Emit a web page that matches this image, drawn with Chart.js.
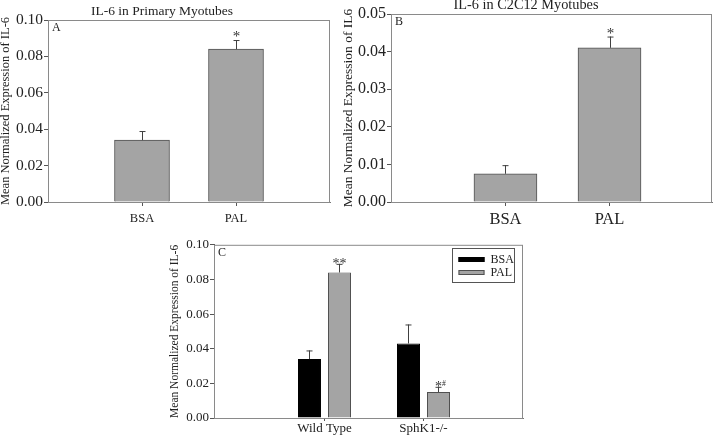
<!DOCTYPE html>
<html>
<head>
<meta charset="utf-8">
<script src="https://cdn.jsdelivr.net/npm/chart.js@4.4.0/dist/chart.umd.min.js"></script>
<style>
html, body { margin: 0; padding: 0; background: #fff; overflow: hidden; }
#wrap { position: relative; width: 713px; height: 439px; overflow: hidden; }
.pane { position: absolute; }
</style>
</head>
<body>
<div id="wrap">
  <div class="pane" style="left:-6px;top:0;width:340px;height:228px"><canvas id="chartA"></canvas></div>
  <div class="pane" style="left:340px;top:0;width:410px;height:228px"><canvas id="chartB"></canvas></div>
  <div class="pane" style="left:150px;top:236px;width:390px;height:203px"><canvas id="chartC"></canvas></div>
</div>
<script>
// panel A - primary myotubes
const categoriesA = ['BSA', 'PAL'];
const valuesA = [0.034, 0.084];
const errTopA = [0.039, 0.089];
const marksA = ['', '*'];
const yTicksA = [0.00, 0.02, 0.04, 0.06, 0.08, 0.10];

// panel B - C2C12 myotubes
const categoriesB = ['BSA', 'PAL'];
const valuesB = [0.0075, 0.041];
const errTopB = [0.0098, 0.044];
const marksB = ['', '*'];
const yTicksB = [0.00, 0.01, 0.02, 0.03, 0.04, 0.05];

// panel C - wild type vs SphK1-/-
const categoriesC = ['Wild Type', 'SphK1-/-'];
const bsaC = [0.034, 0.043];
const bsaErrTopC = [0.039, 0.054];
const palC = [0.084, 0.015];
const palErrTopC = [0.089, 0.018];
const palMarksC = ['**', '*#'];
const yTicksC = [0.00, 0.02, 0.04, 0.06, 0.08, 0.10];

const SERIF = "'Liberation Serif', 'DejaVu Serif', serif";
const GREY = '#a4a4a4';
const EDGE = '#505050';

// error bars, significance marks, frame, panel letter, boxed legend
const decorations = {
    id: 'decorations',
    afterDatasetsDraw(chart, args, opts) {
        const ctx = chart.ctx;
        const y = chart.scales.y;
        const area = chart.chartArea;
        ctx.save();
        // frame around plot
        ctx.strokeStyle = '#8a8a8a';
        ctx.lineWidth = 1;
        ctx.strokeRect(area.left + 0.5, area.top + 0.5, area.right - area.left - 1, area.bottom - area.top);

        chart.data.datasets.forEach((ds, di) => {
            const meta = chart.getDatasetMeta(di);
            meta.data.forEach((bar, i) => {
                const top = y.getPixelForValue(ds.errTop[i]);
                const x = Math.round(bar.x) + 0.5;
                ctx.strokeStyle = '#404040';
                ctx.lineWidth = 1;
                ctx.beginPath();
                ctx.moveTo(x, bar.y);
                ctx.lineTo(x, top);
                ctx.moveTo(x - 3, top + 0.5);
                ctx.lineTo(x + 3, top + 0.5);
                ctx.stroke();
                const mark = ds.marks ? ds.marks[i] : '';
                if (mark) {
                    const size = opts.markSize;
                    // asterisk glyph centre sits about 0.48em above the baseline
                    const base = top - opts.markGap + size * 0.48;
                    const main = mark.replace('#', '');
                    ctx.fillStyle = '#333';
                    ctx.textBaseline = 'alphabetic';
                    ctx.textAlign = 'center';
                    ctx.font = size + 'px ' + SERIF;
                    ctx.fillText(main, x, base);
                    if (mark.includes('#')) {
                        const w = ctx.measureText(main).width;
                        ctx.textAlign = 'left';
                        ctx.font = (size * 0.55) + 'px ' + SERIF;
                        ctx.fillText('#', x + w / 2, base - size * 0.3);
                    }
                }
            });
        });

        // panel letter
        ctx.fillStyle = '#222';
        ctx.font = opts.letterSize + 'px ' + SERIF;
        ctx.textAlign = 'left';
        ctx.textBaseline = 'top';
        ctx.fillText(opts.letter, area.left + 4, area.top + 2);

        // boxed legend
        if (opts.legend) {
            const bw = 62, bh = 34;
            const bx = Math.round(area.right - 9 - bw) + 0.5;
            const by = Math.round(area.top + 3) + 0.5;
            ctx.strokeStyle = '#555';
            ctx.strokeRect(bx, by, bw, bh);
            ctx.font = '12px ' + SERIF;
            ctx.textBaseline = 'middle';
            chart.data.datasets.forEach((ds, di) => {
                const rowY = by + 11 + di * 13;
                ctx.fillStyle = ds.backgroundColor;
                ctx.fillRect(bx + 6, rowY - 2.5, 26, 5);
                ctx.strokeStyle = ds.borderColor;
                ctx.strokeRect(bx + 6.5, rowY - 2, 25, 4);
                ctx.fillStyle = '#222';
                ctx.fillText(ds.label, bx + 38, rowY + 0.5);
            });
        }
        ctx.restore();
    }
};

function makePanel(id, p) {
    const ctx = document.getElementById(id).getContext('2d');
    return new Chart(ctx, {
        type: 'bar',
        data: { datasets: p.datasets },
        options: {
            responsive: true,
            maintainAspectRatio: false,
            animation: false,
            devicePixelRatio: 1,
            layout: { padding: p.padding },
            datasets: { bar: p.barOpts },
            plugins: {
                legend: { display: false },
                tooltip: { enabled: false },
                title: p.title ? {
                    display: true,
                    text: p.title,
                    color: '#222',
                    font: { family: SERIF, size: p.titleFont, weight: 'normal', lineHeight: 1 },
                    padding: p.titlePad
                } : { display: false },
                decorations: p.deco
            },
            scales: {
                x: {
                    type: 'linear',
                    min: p.xMin,
                    max: p.xMax,
                    offset: false,
                    afterBuildTicks: s => { s.ticks = p.categories.map((c, i) => ({ value: i })); },
                    afterFit: s => { s.height = p.xHeight; },
                    grid: { display: true, offset: false, drawOnChartArea: false, drawTicks: true, tickLength: p.tickLen, color: '#555' },
                    border: { display: true, color: '#777' },
                    ticks: {
                        autoSkip: false,
                        maxRotation: 0,
                        padding: p.xPad,
                        color: '#222',
                        font: { family: SERIF, size: p.xFont },
                        callback: (v) => p.categories[v]
                    }
                },
                y: {
                    min: 0,
                    max: p.yTicks[p.yTicks.length - 1],
                    afterBuildTicks: s => { s.ticks = p.yTicks.map(v => ({ value: v })); },
                    afterFit: s => { s.width = p.yWidth; },
                    grid: { display: true, drawOnChartArea: false, drawTicks: true, tickLength: 4, color: '#555' },
                    border: { display: true, color: '#555' },
                    ticks: {
                        padding: 1,
                        color: '#222',
                        font: { family: SERIF, size: p.yFont },
                        callback: v => v.toFixed(2)
                    },
                    title: {
                        display: true,
                        text: p.yTitle,
                        color: '#222',
                        font: { family: SERIF, size: p.yTitleFont },
                        padding: { top: p.yTitlePad, bottom: 0 }
                    }
                }
            }
        },
        plugins: [decorations]
    });
}

makePanel('chartA', {
    categories: categoriesA,
    datasets: [{
        label: 'IL-6',
        data: valuesA.map((v, i) => ({ x: i, y: v })),
        errTop: errTopA,
        marks: marksA,
        backgroundColor: GREY,
        borderColor: EDGE,
        borderWidth: 1
    }],
    barOpts: { barThickness: 55 },
    yTicks: yTicksA,
    xMin: -1, xMax: 2,
    title: 'IL-6 in Primary Myotubes',
    titleFont: 13.5,
    titlePad: { top: 5, bottom: 1.5 },
    padding: { left: 0, right: 4, top: 0, bottom: 0 },
    yWidth: 54, xHeight: 26, tickLen: 4, xPad: 5,
    xFont: 12.5, yFont: 15.5,
    yTitle: 'Mean Normalized Expression of IL-6', yTitleFont: 12.5, yTitlePad: 4,
    deco: { letter: 'A', letterSize: 12, markSize: 15, markGap: 6, legend: false }
});

makePanel('chartB', {
    categories: categoriesB,
    datasets: [{
        label: 'IL-6',
        data: valuesB.map((v, i) => ({ x: i, y: v })),
        errTop: errTopB,
        marks: marksB,
        backgroundColor: GREY,
        borderColor: EDGE,
        borderWidth: 1
    }],
    barOpts: { barThickness: 63 },
    yTicks: yTicksB,
    xMin: -1.1, xMax: 1.985,
    title: 'IL-6 in C2C12 Myotubes',
    titleFont: 14.3,
    titlePad: { top: -2, bottom: 1.7 },
    padding: { left: 0, right: 38, top: 0, bottom: 0 },
    yWidth: 51, xHeight: 26, tickLen: 4, xPad: 4,
    xFont: 16.5, yFont: 16,
    yTitle: 'Mean Normalized Expression of IL6', yTitleFont: 13.5, yTitlePad: 0,
    deco: { letter: 'B', letterSize: 12, markSize: 15, markGap: 5.5, legend: false }
});

makePanel('chartC', {
    categories: categoriesC,
    datasets: [{
        label: 'BSA',
        data: bsaC.map((v, i) => ({ x: i, y: v })),
        errTop: bsaErrTopC,
        marks: [],
        backgroundColor: '#000000',
        borderColor: '#000000',
        borderWidth: 1
    }, {
        label: 'PAL',
        data: palC.map((v, i) => ({ x: i, y: v })),
        errTop: palErrTopC,
        marks: palMarksC,
        backgroundColor: GREY,
        borderColor: EDGE,
        borderWidth: 1
    }],
    barOpts: { categoryPercentage: 0.606, barPercentage: 0.767 },
    yTicks: yTicksC,
    xMin: -1.116, xMax: 2.005,
    title: null,
    padding: { left: 0, right: 17, top: 7, bottom: 0 },
    yWidth: 64, xHeight: 21, tickLen: 3, xPad: 0,
    xFont: 13, yFont: 13,
    yTitle: 'Mean Normalized Expression of IL-6', yTitleFont: 11.5, yTitlePad: 18,
    deco: { letter: 'C', letterSize: 12, markSize: 14, markGap: 3, legend: true }
});
</script>
</body>
</html>
